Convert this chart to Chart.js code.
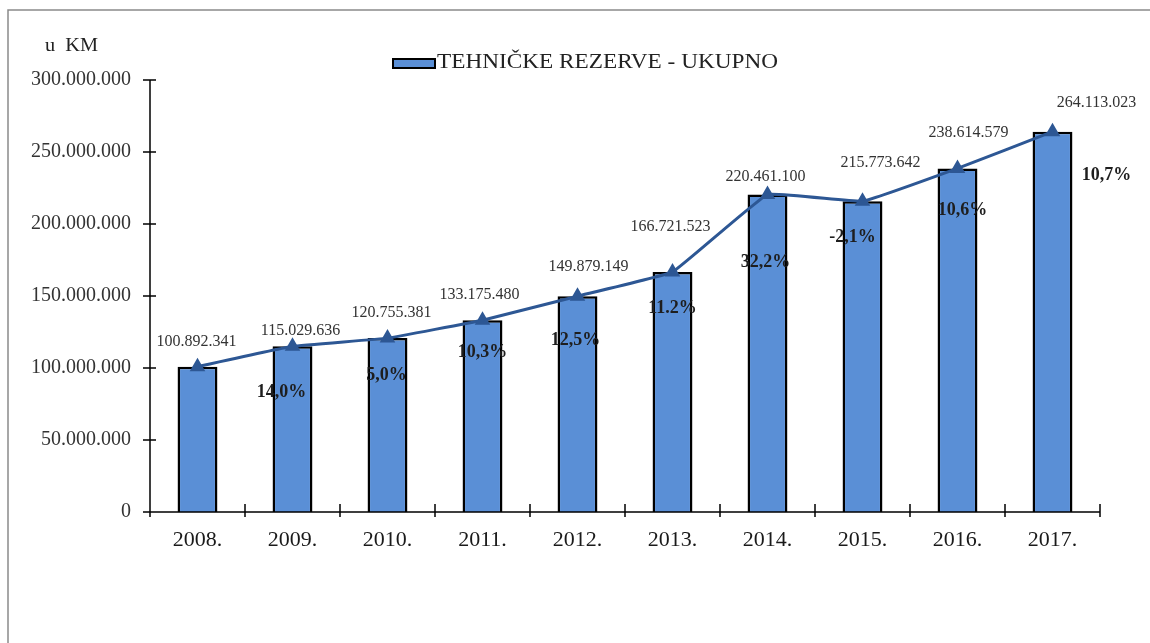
<!DOCTYPE html>
<html>
<head>
<meta charset="utf-8">
<script src="https://cdn.jsdelivr.net/npm/chart.js@4"></script>
<style>
  html, body { margin: 0; padding: 0; background: #fff; }
  #wrap { width: 1150px; height: 643px; position: relative; }
</style>
</head>
<body>
<div id="wrap"><canvas id="chart" width="1150" height="643"></canvas></div>
<script>
// podaci
var years = ['2008.', '2009.', '2010.', '2011.', '2012.', '2013.', '2014.', '2015.', '2016.', '2017.'];
var reserves = [100892341, 115029636, 120755381, 133175480, 149879149, 166721523, 220461100, 215773642, 238614579, 264113023];
var growth = ['', '14,0%', '5,0%', '10,3%', '12,5%', '11.2%', '32,2%', '-2,1%', '10,6%', '10,7%'];
var yTicks = [0, 50000000, 100000000, 150000000, 200000000, 250000000, 300000000];

// pomaci natpisa (px) u odnosu na tacku linije
var valueOff = [[-1, -25], [8, -16], [4, -25], [-3, -25], [11, -29], [-2, -45], [-2, -18], [18, -38], [11, -36], [44, -29]];
var growthOff = [[0, 0], [-11, 46], [-1, 37], [0, 32], [-2, 44], [0, 36], [-2, 68], [-10, 36], [5, 42], [54, 44]];

var SERIF = '"Liberation Serif", "DejaVu Serif", serif';
var BAR = '#5a8fd6';
var LINE = '#2d5794';

function fmt(n) {
  return String(n).replace(/\B(?=(\d{3})+(?!\d))/g, '.');
}

// tekst rastegnut na zadanu sirinu (kao u originalu)
function wideText(c, txt, x, y, w) {
  var m = c.measureText(txt).width;
  c.save();
  c.translate(x, y);
  c.scale(w / m, 1);
  c.fillText(txt, 0, 0);
  c.restore();
}

var decor = {
  id: 'decor',
  beforeDraw: function(chart) {
    var c = chart.ctx;
    c.save();
    c.strokeStyle = '#8a8a8a';
    c.lineWidth = 1.5;
    c.beginPath();
    c.moveTo(8, 643); c.lineTo(8, 10); c.lineTo(1150, 10);
    c.stroke();
    c.restore();
  },
  afterDraw: function(chart) {
    var c = chart.ctx;
    var xs = chart.scales.x, ys = chart.scales.y;
    c.save();
    // osi i crtice
    c.strokeStyle = '#000';
    c.lineWidth = 1.5;
    c.beginPath();
    c.moveTo(xs.left, ys.bottom); c.lineTo(xs.right, ys.bottom);
    c.moveTo(xs.left, ys.top); c.lineTo(xs.left, ys.bottom);
    yTicks.forEach(function(v) {
      var y = ys.getPixelForValue(v);
      c.moveTo(xs.left - 7, y); c.lineTo(xs.left + 6, y);
    });
    var step = (xs.right - xs.left) / years.length;
    for (var i = 0; i <= years.length; i++) {
      var x = xs.left + i * step;
      c.moveTo(x, ys.bottom - 8); c.lineTo(x, ys.bottom + 5);
    }
    c.stroke();

    // jedinica
    c.fillStyle = '#222';
    c.font = '19px ' + SERIF;
    c.textAlign = 'left';
    c.textBaseline = 'middle';
    wideText(c, 'u  KM', 45, 46, 53);

    // legenda
    c.fillStyle = BAR;
    c.strokeStyle = '#000';
    c.lineWidth = 2;
    c.fillRect(393, 59, 42, 9);
    c.strokeRect(393, 59, 42, 9);
    c.fillStyle = '#222';
    c.font = '20px ' + SERIF;
    wideText(c, 'TEHNIČKE REZERVE - UKUPNO', 437, 63, 341);

    // natpisi vrijednosti i rasta
    var pts = chart.getDatasetMeta(1).data;
    c.textAlign = 'center';
    pts.forEach(function(p, i) {
      c.font = '16px ' + SERIF;
      c.fillStyle = '#333';
      c.fillText(fmt(reserves[i]), p.x + valueOff[i][0], p.y + valueOff[i][1]);
      if (growth[i]) {
        c.font = 'bold 18px ' + SERIF;
        c.fillStyle = '#1e1e1e';
        c.fillText(growth[i], p.x + growthOff[i][0], p.y + growthOff[i][1]);
      }
    });
    c.restore();
  }
};

new Chart(document.getElementById('chart'), {
  type: 'bar',
  data: {
    labels: years,
    datasets: [{
      type: 'bar',
      label: 'TEHNIČKE REZERVE - UKUPNO',
      data: reserves,
      backgroundColor: BAR,
      borderColor: '#000',
      borderWidth: 2.5,
      barPercentage: 0.42,
      categoryPercentage: 1,
      order: 2
    }, {
      type: 'line',
      label: 'rast',
      data: reserves,
      borderColor: LINE,
      borderWidth: 3,
      tension: 0.08,
      pointStyle: 'triangle',
      pointRadius: 6,
      pointBackgroundColor: LINE,
      pointBorderColor: LINE,
      order: 1
    }]
  },
  options: {
    responsive: false,
    animation: false,
    layout: { padding: { top: 80, right: 50, left: 0, bottom: 0 } },
    plugins: {
      legend: { display: false },
      tooltip: { enabled: false }
    },
    scales: {
      x: {
        offset: true,
        grid: { display: false },
        border: { display: false },
        ticks: { color: '#1a1a1a', padding: 7, font: { family: SERIF, size: 22 } },
        afterFit: function(s) { s.height = 131; }
      },
      y: {
        min: 0,
        max: 300000000,
        grid: { display: false },
        border: { display: false },
        afterBuildTicks: function(s) { s.ticks = yTicks.map(function(v) { return { value: v }; }); },
        ticks: {
          color: '#333',
          padding: 11,
          font: { family: SERIF, size: 20 },
          callback: function(v) { return fmt(v); }
        },
        afterFit: function(s) { s.width = 150; }
      }
    }
  },
  plugins: [decor]
});
</script>
</body>
</html>
